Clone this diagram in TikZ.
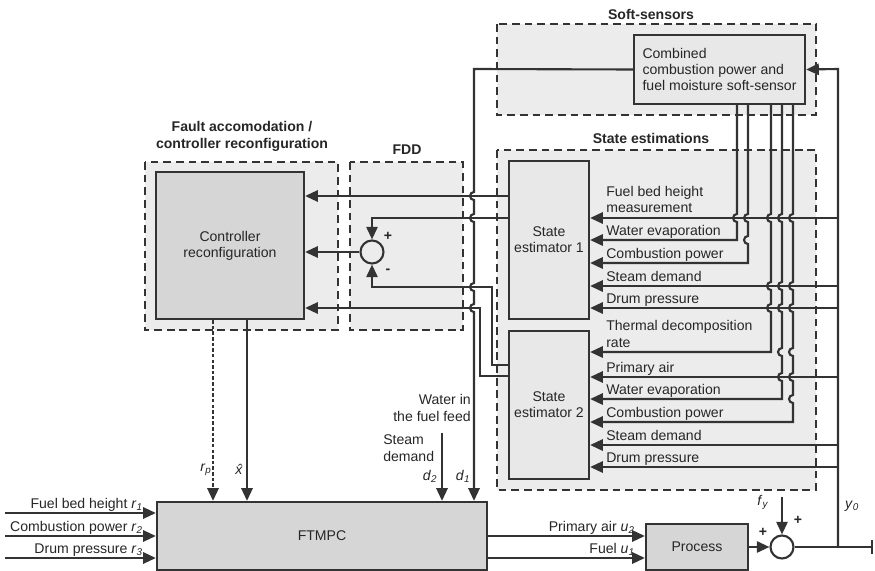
\documentclass[tikz,border=0pt]{standalone}
\usepackage{fontspec}
\setmainfont{Liberation Sans}
\usetikzlibrary{arrows.meta}
\newcommand{\vsub}[2]{\textit{#1}\textsubscript{\textit{#2}}}
\tikzset{
  region/.style={draw=black!80, fill=gray!15, line width=1.2pt, dash pattern=on 5.5pt off 3.5pt},
  estbox/.style={draw=black!80, fill=gray!18, line width=1.6pt, align=center, inner sep=0pt},
  blk/.style={draw=black!80, fill=gray!32, line width=1.6pt, align=center, inner sep=0pt},
  wire/.style={draw=black!80, line width=1.5pt},
  arr/.style={-{Triangle[length=9pt,width=8pt]}},
  ttl/.style={font=\bfseries, align=center, inner sep=0pt},
  lbl/.style={inner sep=0pt},
  sumc/.style={circle, draw=black!80, line width=1.5pt, minimum size=0.575cm, inner sep=0pt},
}
\begin{document}
\begin{tikzpicture}[x=0.025cm, y=-0.025cm, font=\fontsize{10}{11.5}\selectfont, text=black!85]
\useasboundingbox (0,0) rectangle (875,571);
% dashed regions
\path[region] (497,24) rectangle (816,115);
\path[region] (497,150) rectangle (816,490);
\path[region] (145,162) rectangle (338,330);
\path[region] (350,162) rectangle (463,330);
\node[ttl] (tsoft) at (651,14) {Soft-sensors};
\node[ttl] (test) at (651,138) {State estimations};
\node[ttl] (tfac) at (242,136) {Fault accomodation /\\controller reconfiguration};
\node[ttl] (tfdd) at (407,150) {FDD};

% blocks
\node[estbox, align=left, minimum width=4.275cm, minimum height=1.725cm] (cmb) at (719.5,69.5)
  {Combined\\combustion power and\\fuel moisture soft-sensor};
\node[estbox, minimum width=2cm, minimum height=3.95cm] (est1) at (549,240) {State\\estimator 1};
\node[estbox, minimum width=2cm, minimum height=3.7cm] (est2) at (549,405) {State\\estimator 2};
\node[blk, minimum width=3.7cm, minimum height=3.675cm] (ctrl) at (230,245.5) {Controller\\reconfiguration};
\node[blk, minimum width=8.25cm, minimum height=1.7cm] (ftmpc) at (322,536) {FTMPC};
\node[blk, minimum width=2.55cm, minimum height=1.15cm] (proc) at (697,547) {Process};
\node[sumc] (sum1) at (372,252) {};
\node[sumc] (sum2) at (782,547) {};

% measurements into the soft-sensor and the estimators
\coordinate (ybr) at (838,547);
\draw[wire, arr] (ybr) -- (838,69) -- (cmb.east);
\foreach \yy/\est in {218/est1, 286/est1, 308/est1, 377/est2, 445/est2, 467/est2}
  \draw[wire, arr] (838,\yy) -- (\est.east |- 0,\yy);

% soft-sensor outputs, hopping over the measurement lines
\draw[wire, arr] (cmb.south -| 737,0)
  \foreach \yy in {218}{-- (737,\yy-4) arc[start angle=90, end angle=270, radius=0.1cm]}
  -- (737,240) -- (est1.east |- 0,240);
\draw[wire, arr] (cmb.south -| 748,0)
  \foreach \yy in {218,240}{-- (748,\yy-4) arc[start angle=90, end angle=270, radius=0.1cm]}
  -- (748,263) -- (est1.east |- 0,263);
\draw[wire, arr] (cmb.south -| 771,0)
  \foreach \yy in {218,286,308}{-- (771,\yy-4) arc[start angle=90, end angle=270, radius=0.1cm]}
  -- (771,352) -- (est2.east |- 0,352);
\draw[wire, arr] (cmb.south -| 782,0)
  \foreach \yy in {218,286,308,352,377}{-- (782,\yy-4) arc[start angle=90, end angle=270, radius=0.1cm]}
  -- (782,399) -- (est2.east |- 0,399);
\draw[wire, arr] (cmb.south -| 793,0)
  \foreach \yy in {218,286,308,352,377,399}{-- (793,\yy-4) arc[start angle=90, end angle=270, radius=0.1cm]}
  -- (793,422) -- (est2.east |- 0,422);

% estimator input labels
\node[lbl, anchor=base west, align=left] (l11) at (606,213) {Fuel bed height\\measurement};
\node[lbl, anchor=base west] (l12) at (606,235) {Water evaporation};
\node[lbl, anchor=base west] (l13) at (606,258) {Combustion power};
\node[lbl, anchor=base west] (l14) at (606,281) {Steam demand};
\node[lbl, anchor=base west] (l15) at (606,303) {Drum pressure};
\node[lbl, anchor=base west, align=left] (l21) at (606,347) {Thermal decomposition\\rate};
\node[lbl, anchor=base west] (l22) at (606,372) {Primary air};
\node[lbl, anchor=base west] (l23) at (606,394) {Water evaporation};
\node[lbl, anchor=base west] (l24) at (606,417) {Combustion power};
\node[lbl, anchor=base west] (l25) at (606,440) {Steam demand};
\node[lbl, anchor=base west] (l26) at (606,462) {Drum pressure};

% estimator outputs to FDD and controller
\draw[wire, arr] (est1.west |- 0,196) -- (ctrl.east |- 0,196);
\draw[wire, arr] (est1.west |- 0,218) -| (sum1.north);
\draw[wire, arr] (est2.west |- 0,365) -- (492,365) -- (492,287) -| (sum1.south);
\draw[wire, arr] (est2.west |- 0,376) -- (480,376) -- (480,308) -- (ctrl.east |- 0,308);
\draw[wire, arr] (sum1.west) -- (ctrl.east |- sum1.west);
\node[lbl, font=\bfseries] (p1) at (388,236) {+};
\node[lbl, font=\bfseries] (m1) at (388,271) {-};

% soft-sensor output d1 down to the FTMPC
\draw[wire, arr] (cmb.west) -- (474,69)
  \foreach \yy in {196,218,287,308}{-- (474,\yy-4) arc[start angle=90, end angle=270, radius=0.1cm]}
  -- (ftmpc.north -| 474,0);

% controller to FTMPC
\draw[wire, arr, dash pattern=on 2.5pt off 1.5pt] (ctrl.south -| 213,0) -- (ftmpc.north -| 213,0);
\draw[wire, arr] (ctrl.south -| 247,0) -- (ftmpc.north -| 247,0);
\node[lbl] (lrp) at (206,470) {\vsub{r}{p}};
\node[lbl] (lxh) at (240,469) {\textit{\^x}};

% disturbances
\coordinate (d2top) at (442,433);
\draw[wire, arr] (d2top) -- (ftmpc.north -| d2top);
\node[lbl, anchor=base east, align=right] (lwat) at (471,421) {Water in\\the fuel feed};
\node[lbl, anchor=base west, align=left] (lstm) at (383,461) {Steam\\demand};
\node[lbl] (ld2) at (430,476) {\vsub{d}{2}};
\node[lbl] (ld1) at (463,476) {\vsub{d}{1}};

% references
\foreach \yy/\nm in {513/1, 536/2, 558/3}{
  \coordinate (r\nm) at (5,\yy);
  \draw[wire, arr] (r\nm) -- (ftmpc.west |- r\nm);
}
\node[lbl, anchor=base east] (lr1) at (143,508) {Fuel bed height \vsub{r}{1}};
\node[lbl, anchor=base east] (lr2) at (143,531) {Combustion power \vsub{r}{2}};
\node[lbl, anchor=base east] (lr3) at (143,553) {Drum pressure \vsub{r}{3}};

% plant
\draw[wire, arr] (ftmpc.east |- 0,536) -- (proc.west |- 0,536);
\draw[wire, arr] (ftmpc.east |- 0,558) -- (proc.west |- 0,558);
\node[lbl, anchor=base east] (lu2) at (635,531) {Primary air \vsub{u}{2}};
\node[lbl, anchor=base east] (lu1) at (635,553) {Fuel \vsub{u}{1}};
\draw[wire, arr] (proc.east) -- (sum2.west);
\coordinate (fy) at (782,497);
\draw[wire, arr] (fy) -- (sum2.north);
\node[lbl] (lfy) at (763,502) {\vsub{f}{y}};
\node[lbl, font=\bfseries] (p2) at (798,520) {+};
\node[lbl, font=\bfseries] (p3) at (763,532) {+};
\coordinate (yend) at (873,547);
\draw[wire, -{Bar[width=10pt]}] (sum2.east) -- (yend);
\node[lbl] (ly0) at (852,506) {\vsub{y}{0}};
\end{tikzpicture}
\end{document}
